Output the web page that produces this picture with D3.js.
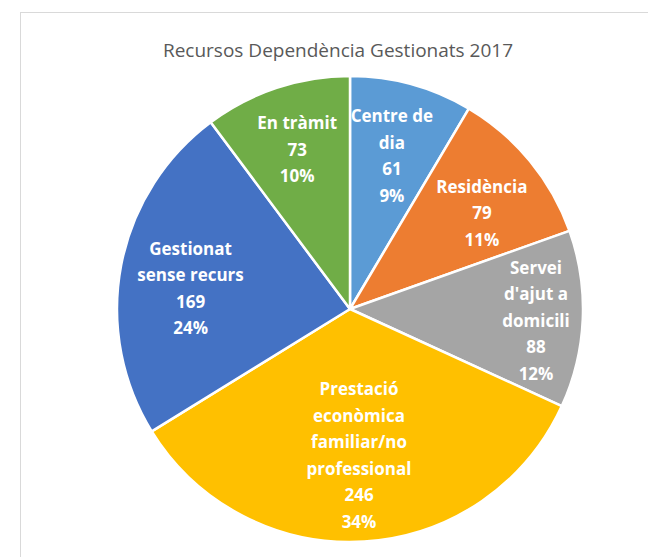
<!DOCTYPE html>
<html>
<head>
<meta charset="utf-8">
<script src="https://cdnjs.cloudflare.com/ajax/libs/d3/7.8.5/d3.min.js"></script>
<style>
  body { margin: 0; background: #fff; }
  svg { display: block; }
</style>
</head>
<body>
<div id="chart"></div>
<script>
// data
const categories = ["Centre de\ndia", "Residència", "Servei\nd'ajut a\ndomicili",
  "Prestació\neconòmica\nfamiliar/no\nprofessional", "Gestionat\nsense recurs", "En tràmit"];
const values = [61, 79, 88, 246, 169, 73];
const colors = ["#5B9BD5", "#ED7D31", "#A5A5A5", "#FFC000", "#4472C4", "#70AD47"];
const title = "Recursos Dependència Gestionats 2017";

const width = 648, height = 557;
const cx = 350, cy = 309, radius = 233;
// how far out each label sits, as part of the radius, plus a small turn (radians)
const labelFrac = [0.68, 0.7, 0.8, 0.63, 0.69, 0.72];
const labelTurn = [0, 0.06, 0.02, 0, -0.06, 0];
const lineH = 26.5;

const svg = d3.select("#chart").append("svg")
  .attr("width", width).attr("height", height);

// chart area frame (runs off the right and bottom edges)
svg.append("rect")
  .attr("x", 20.5).attr("y", 12.5)
  .attr("width", 700).attr("height", 700)
  .attr("fill", "none").attr("stroke", "#d9d9d9").attr("stroke-width", 1);

svg.append("text")
  .attr("x", 338).attr("y", 57)
  .attr("text-anchor", "middle")
  .attr("font-family", "'Open Sans', sans-serif")
  .attr("font-size", 19)
  .attr("fill", "#595959")
  .text(title);

const total = d3.sum(values);
const pie = d3.pie().sort(null).value(d => d)(values);
const arc = d3.arc().innerRadius(0).outerRadius(radius);

const g = svg.append("g").attr("transform", `translate(${cx},${cy})`);

g.selectAll("path").data(pie).join("path")
  .attr("d", arc)
  .attr("fill", (d, i) => colors[i])
  .attr("stroke", "#fff")
  .attr("stroke-width", 2.5)
  .attr("stroke-linejoin", "round");

const pct = d3.format(".0%");
g.selectAll("text.lbl").data(pie).join("text")
  .attr("class", "lbl")
  .attr("text-anchor", "middle")
  .attr("font-family", "'Open Sans', sans-serif")
  .attr("font-weight", "bold")
  .attr("font-size", 17)
  .attr("fill", "#fff")
  .each(function (d, i) {
    const a = (d.startAngle + d.endAngle) / 2 + labelTurn[i];
    const r = radius * labelFrac[i];
    const x = Math.sin(a) * r, y = -Math.cos(a) * r;
    const lines = categories[i].split("\n").concat([String(values[i]), pct(values[i] / total)]);
    const y0 = y - (lines.length - 1) * lineH / 2 + 6;
    d3.select(this).selectAll("tspan").data(lines).join("tspan")
      .attr("x", x)
      .attr("y", (t, k) => y0 + k * lineH)
      .text(t => t);
  });
</script>
</body>
</html>
